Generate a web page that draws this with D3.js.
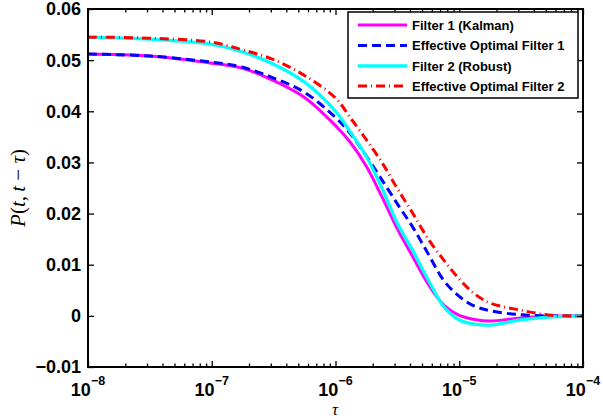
<!DOCTYPE html>
<html><head><meta charset="utf-8">
<script src="https://cdn.jsdelivr.net/npm/d3@7"></script>
<style>body{margin:0;background:#fff}svg{display:block}</style>
</head><body>
<svg id="c" width="603" height="419"></svg>
<script>
// ---- data ----
const tau = [1e-8, 3.16e-8, 1e-7, 1.78e-7, 3.16e-7, 5.62e-7, 1e-6, 1.33e-6, 1.78e-6, 2.37e-6,
             3.16e-6, 4.22e-6, 5.62e-6, 7.5e-6, 1e-5, 1.33e-5, 1.78e-5, 3.16e-5, 5.62e-5, 1e-4];
const filter1 = [0.0512, 0.0508, 0.0494, 0.0484, 0.0460, 0.0427, 0.0372, 0.0338, 0.0292, 0.0233,
                 0.0170, 0.0115, 0.0062, 0.0021, 0.0001, -0.0007, -0.0010, -0.0004, -0.0001, 0];
const effOpt1 = [0.0512, 0.0508, 0.0496, 0.0486, 0.0465, 0.0437, 0.0388, 0.0355, 0.0312, 0.0266,
                 0.0219, 0.0173, 0.0121, 0.0069, 0.0038, 0.0019, 0.0010, 0.0002, 0.0000, 0];
const filter2 = [0.0545, 0.0541, 0.0531, 0.0516, 0.0492, 0.0457, 0.0400, 0.0358, 0.0311, 0.0250,
                 0.0181, 0.0127, 0.0070, 0.0018, -0.0008, -0.0016, -0.0018, -0.0008, -0.0002, 0];
const effOpt2 = [0.0545, 0.0543, 0.0535, 0.0520, 0.0501, 0.0470, 0.0426, 0.0386, 0.0344, 0.0300,
                 0.0249, 0.0200, 0.0150, 0.0109, 0.0072, 0.0043, 0.0025, 0.0011, 0.0001, 0];
const seriesNames = ["Filter 1 (Kalman)", "Effective Optimal Filter 1", "Filter 2 (Robust)", "Effective Optimal Filter 2"];
const xTickExps = [-8, -7, -6, -5, -4];
const yTicks = [-0.01, 0, 0.01, 0.02, 0.03, 0.04, 0.05, 0.06];
const yTickLabels = ["\u22120.01", "0", "0.01", "0.02", "0.03", "0.04", "0.05", "0.06"];

// ---- layout ----
const svg = d3.select("#c");
const L = 88, R = 583, T = 9, B = 367;
const x = d3.scaleLog().domain([1e-8, 1e-4]).range([L, R]);
const y = d3.scaleLinear().domain([-0.01, 0.06]).range([B, T]);

const styles = [
  {data: filter1, color: "#ff00ff", width: 3, dash: null},
  {data: effOpt1, color: "#0000ff", width: 3, dash: "9,5"},
  {data: filter2, color: "#00ffff", width: 3.3, dash: null},
  {data: effOpt2, color: "#ff0000", width: 3, dash: "9,4,1,4"}
];

const line = d3.line().x((d, i) => x(tau[i])).y(d => y(d)).curve(d3.curveCatmullRom.alpha(0.5));
const plot = svg.append("g");
plot.append("clipPath").attr("id", "clip").append("rect").attr("x", L).attr("y", T).attr("width", R - L).attr("height", B - T);
styles.forEach(s => {
  plot.append("path").attr("d", line(s.data)).attr("fill", "none")
    .attr("stroke", s.color).attr("stroke-width", s.width)
    .attr("stroke-dasharray", s.dash).attr("clip-path", "url(#clip)");
});

// ---- axes ----
const minor = [];
for (let e = -8; e < -4; e++) for (let k = 2; k <= 9; k++) minor.push(k * Math.pow(10, e));
const majorX = xTickExps.map(e => Math.pow(10, e));

function tickStyle(g){ g.select(".domain").remove(); g.selectAll("line").attr("stroke", "#000").attr("stroke-width", 1.3); }
svg.append("g").attr("transform", `translate(0,${B})`).call(d3.axisTop(x).tickValues(majorX).tickSize(6).tickFormat("")).call(tickStyle);
svg.append("g").attr("transform", `translate(0,${B})`).call(d3.axisTop(x).tickValues(minor).tickSize(3.5).tickFormat("")).call(tickStyle);
svg.append("g").attr("transform", `translate(0,${T})`).call(d3.axisBottom(x).tickValues(majorX).tickSize(6).tickFormat("")).call(tickStyle);
svg.append("g").attr("transform", `translate(0,${T})`).call(d3.axisBottom(x).tickValues(minor).tickSize(3.5).tickFormat("")).call(tickStyle);
svg.append("g").attr("transform", `translate(${L},0)`).call(d3.axisRight(y).tickValues(yTicks).tickSize(6).tickFormat("")).call(tickStyle);
svg.append("g").attr("transform", `translate(${R},0)`).call(d3.axisLeft(y).tickValues(yTicks).tickSize(6).tickFormat("")).call(tickStyle);

svg.append("rect").attr("x", L).attr("y", T).attr("width", R - L).attr("height", B - T)
  .attr("fill", "none").attr("stroke", "#000").attr("stroke-width", 2);

// y tick labels
svg.append("g").selectAll("text").data(yTicks).join("text")
  .attr("x", 81).attr("y", d => y(d)).attr("dy", "0.36em").attr("text-anchor", "end")
  .attr("font-family", "Liberation Sans, Arial, sans-serif").attr("font-weight", "bold").attr("font-size", 18)
  .text((d, i) => yTickLabels[i]);

// x tick labels with superscripts
const xl = svg.append("g").selectAll("text").data(xTickExps).join("text")
  .attr("x", d => x(Math.pow(10, d))).attr("y", 395.5).attr("text-anchor", "middle")
  .attr("font-family", "Liberation Sans, Arial, sans-serif").attr("font-weight", "bold").attr("font-size", 18);
xl.append("tspan").text("10");
xl.append("tspan").attr("dy", -11).attr("font-size", 12.5).text(d => "\u2212" + Math.abs(d));

// axis titles
svg.append("text").attr("x", 335).attr("y", 414.5).attr("text-anchor", "middle")
  .attr("font-family", "Liberation Serif, Times New Roman, serif").attr("font-style", "italic").attr("font-size", 17)
  .text("\u03c4");
const yl = svg.append("text").attr("transform", "translate(25,188) rotate(-90)").attr("text-anchor", "middle")
  .attr("font-family", "Liberation Serif, Times New Roman, serif").attr("font-size", 21);
yl.append("tspan").attr("font-style", "italic").text("P");
yl.append("tspan").text("(");
yl.append("tspan").attr("font-style", "italic").text("t");
yl.append("tspan").text(",\u2009");
yl.append("tspan").attr("font-style", "italic").text("t");
yl.append("tspan").text("\u2005\u2212\u2005");
yl.append("tspan").attr("font-style", "italic").text("\u03c4");
yl.append("tspan").text(")");

// ---- legend ----
const lg = svg.append("g");
lg.append("rect").attr("x", 348).attr("y", 12).attr("width", 230).attr("height", 86)
  .attr("fill", "#fff").attr("stroke", "#000").attr("stroke-width", 1.5);
const ly = [25, 45.5, 66, 86];
styles.forEach((s, i) => {
  lg.append("line").attr("x1", 358).attr("x2", 407).attr("y1", ly[i]).attr("y2", ly[i])
    .attr("stroke", s.color).attr("stroke-width", s.width).attr("stroke-dasharray", s.dash);
  lg.append("text").attr("x", 412).attr("y", ly[i]).attr("dy", "0.36em")
    .attr("font-family", "Liberation Sans, Arial, sans-serif").attr("font-weight", "bold").attr("font-size", 13)
    .text(seriesNames[i]);
});
</script>
</body></html>
